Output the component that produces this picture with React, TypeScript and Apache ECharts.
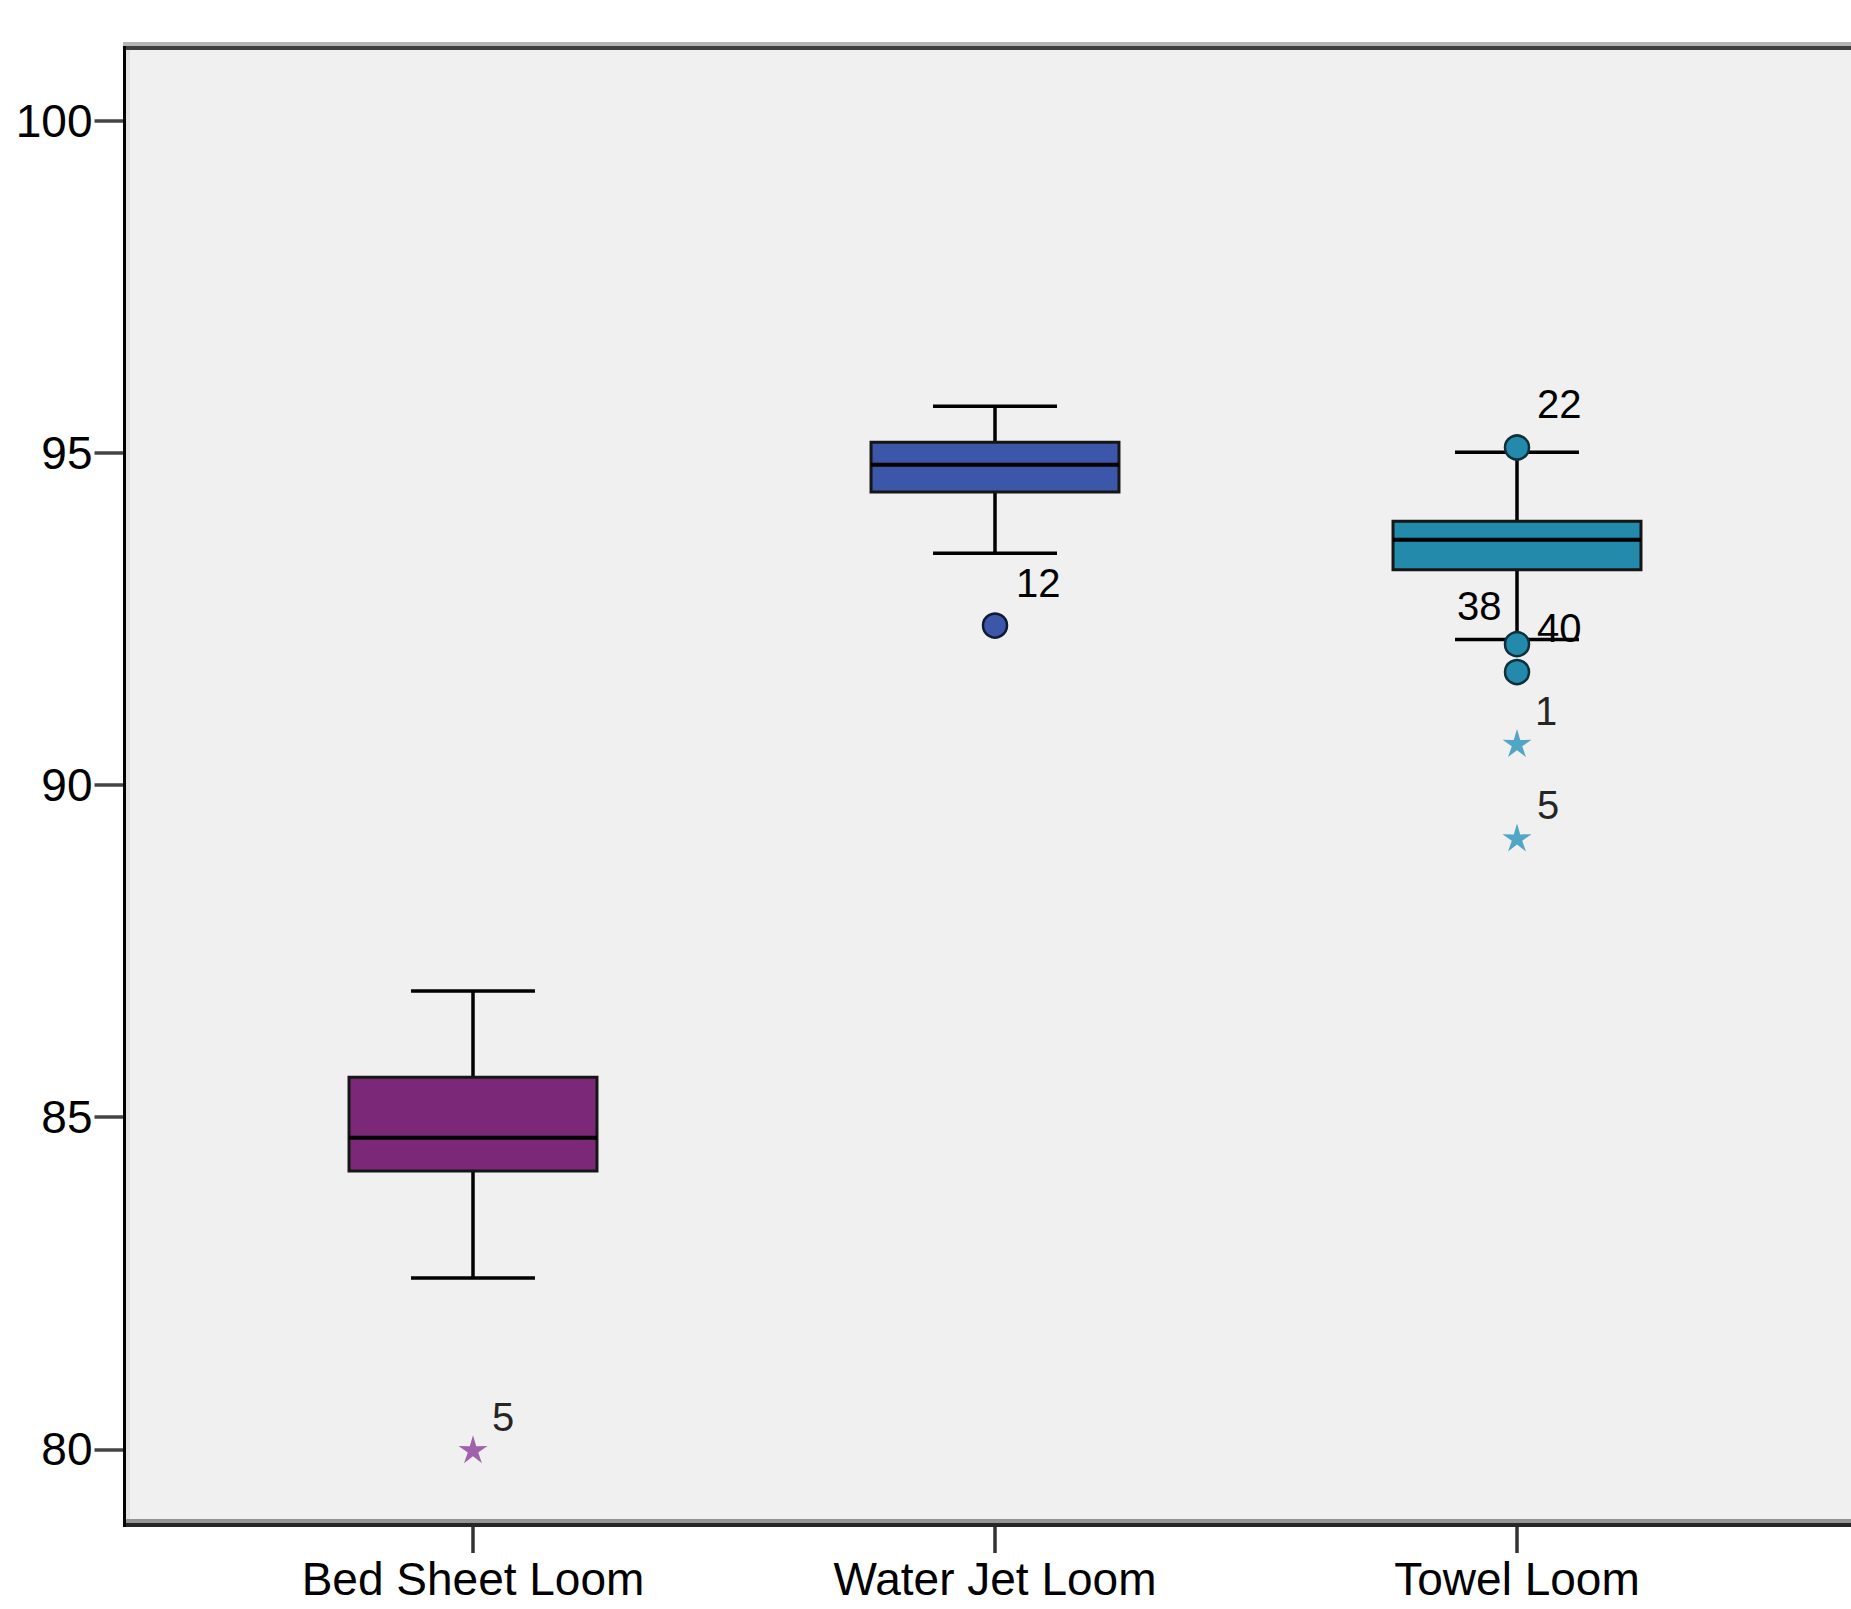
import React, { useEffect, useRef } from "react";
import * as echarts from "echarts";

// ---------- data ----------
const categories = ["Bed Sheet Loom", "Water Jet Loom", "Towel Loom"];
const whiskerLow = [82.58, 93.49, 92.19];
const quartile1 = [84.19, 94.41, 93.24];
const median = [84.69, 94.82, 93.69];
const quartile3 = [85.6, 95.16, 93.97];
const whiskerHigh = [86.9, 95.7, 95.01];
const yTicks = [80, 85, 90, 95, 100];

// outliers (circles)
const outlierCategory = [1, 2, 2, 2];
const outlierValue = [92.4, 95.08, 92.12, 91.7];
const outlierCase = ["12", "22", "40", "38"];

// extreme values (stars)
const extremeCategory = [0, 2, 2];
const extremeValue = [80.0, 90.63, 89.21];
const extremeCase = ["5", "1", "5"];

const Y_MIN = 78.86;
const Y_MAX = 101.094;

// ---------- styles ----------
const FILL = ["#7b2878", "#3c56a9", "#238aab"];
const EDGE = ["#1a0f1a", "#101a33", "#0f2f3a"];
const STAR = ["#9448a0", "#3598bd", "#3598bd"];
const FONT = "'Liberation Sans', Arial, sans-serif";
// label offsets [dx, dy] from point centre (left / bottom of text)
const outlierLabelOffset = [[21, -23], [20, -24], [20, 4], [-60, -46]];
const extremeLabelOffset = [[19, -12], [18, -12], [20, -12]];

function starPath(): string {
  const pts: string[] = [];
  for (let k = 0; k < 10; k++) {
    const a = ((-90 + k * 36) * Math.PI) / 180;
    const r = k % 2 === 0 ? 10 : 3.6;
    pts.push(`${(r * Math.cos(a)).toFixed(3)} ${(r * Math.sin(a)).toFixed(3)}`);
  }
  return "path://M" + pts.join(" L") + " Z";
}

export default function App() {
  const ref = useRef<HTMLDivElement>(null);

  useEffect(() => {
    if (!ref.current) return;
    const chart = echarts.init(ref.current, null, { renderer: "svg" });

    const boxData = categories.map((_, i) => [
      i,
      whiskerLow[i],
      quartile1[i],
      median[i],
      quartile3[i],
      whiskerHigh[i],
    ]);

    const star = starPath();
    const labelText = { fontSize: 40, lineHeight: 40, color: "#000000", fontFamily: FONT };

    const option: any = {
      animation: false,
      backgroundColor: "#ffffff",
      grid: {
        left: 212,
        right: 73,
        top: 48,
        bottom: 84,
        containLabel: false,
        outerBoundsMode: "none",
      },
      xAxis: {
        type: "category",
        data: categories,
        axisLine: { show: false },
        axisTick: {
          show: true,
          alignWithLabel: true,
          length: 28,
          lineStyle: { color: "#333333", width: 3.5 },
        },
        axisLabel: {
          interval: 0,
          margin: 31,
          fontSize: 46,
          lineHeight: 46,
          color: "#000000",
          fontFamily: FONT,
        },
        splitLine: { show: false },
      },
      yAxis: {
        type: "value",
        min: Y_MIN,
        max: Y_MAX,
        offset: 87.5,
        axisLine: { show: false },
        axisTick: {
          show: true,
          length: 30,
          customValues: yTicks,
          lineStyle: { color: "#444444", width: 3.5 },
        },
        axisLabel: {
          customValues: yTicks,
          margin: 32,
          fontSize: 46,
          color: "#000000",
          fontFamily: FONT,
        },
        splitLine: { show: false },
      },
      graphic: [
        { type: "rect", z: -10, shape: { x: 123, y: 46, width: 1740, height: 1481 }, style: { fill: "#f0f0f0" } },
        { type: "rect", z: 50, shape: { x: 126, y: 50, width: 4, height: 1469 }, style: { fill: "#e2e2e2" } },
        { type: "rect", z: 50, shape: { x: 123, y: 42, width: 1740, height: 4 }, style: { fill: "#b5b5b5" } },
        { type: "rect", z: 51, shape: { x: 123, y: 46, width: 1740, height: 4 }, style: { fill: "#3f3f3f" } },
        { type: "rect", z: 50, shape: { x: 126, y: 1519, width: 1740, height: 4 }, style: { fill: "#959595" } },
        { type: "rect", z: 51, shape: { x: 123, y: 1523, width: 1740, height: 4 }, style: { fill: "#262626" } },
        { type: "rect", z: 52, shape: { x: 123, y: 46, width: 3, height: 1481 }, style: { fill: "#000000" } },
      ],
      series: [
        {
          type: "custom",
          z: 2,
          data: boxData,
          encode: { x: 0, y: [1, 2, 3, 4, 5] },
          renderItem: (params: any, api: any) => {
            const c = api.value(0);
            const lo = api.coord([c, api.value(1)]);
            const b1 = api.coord([c, api.value(2)]);
            const md = api.coord([c, api.value(3)]);
            const b3 = api.coord([c, api.value(4)]);
            const hi = api.coord([c, api.value(5)]);
            const band = api.size([1, 0])[0];
            const bw = band * 0.475;
            const cw = bw / 2;
            const x = lo[0];
            const idx = params.dataIndex;
            const ln = { stroke: "#000000", lineWidth: 3.5 };
            return {
              type: "group",
              children: [
                { type: "line", shape: { x1: x, y1: hi[1], x2: x, y2: b3[1] }, style: ln },
                { type: "line", shape: { x1: x, y1: b1[1], x2: x, y2: lo[1] }, style: ln },
                { type: "line", shape: { x1: x - cw / 2, y1: hi[1], x2: x + cw / 2, y2: hi[1] }, style: ln },
                { type: "line", shape: { x1: x - cw / 2, y1: lo[1], x2: x + cw / 2, y2: lo[1] }, style: ln },
                {
                  type: "rect",
                  shape: { x: x - bw / 2, y: b3[1], width: bw, height: b1[1] - b3[1] },
                  style: { fill: FILL[idx], stroke: "#161616", lineWidth: 3 },
                },
                {
                  type: "line",
                  shape: { x1: x - bw / 2, y1: md[1], x2: x + bw / 2, y2: md[1] },
                  style: { stroke: "#000000", lineWidth: 4 },
                },
              ],
            };
          },
        },
        {
          type: "scatter",
          z: 3,
          symbol: "circle",
          symbolSize: 24,
          data: outlierValue.map((v, i) => {
            const c = outlierCategory[i];
            return {
              value: [c, v],
              name: outlierCase[i],
              itemStyle: { color: FILL[c], borderColor: EDGE[c], borderWidth: 2.5, opacity: 1 },
              label: {
                show: true,
                formatter: outlierCase[i],
                position: "inside",
                align: "left",
                verticalAlign: "bottom",
                offset: outlierLabelOffset[i],
                ...labelText,
              },
            };
          }),
        },
        {
          type: "scatter",
          z: 3,
          symbol: star,
          symbolSize: [29, 28],
          data: extremeValue.map((v, i) => {
            const c = extremeCategory[i];
            return {
              value: [c, v],
              name: extremeCase[i],
              itemStyle: { color: STAR[c], opacity: 0.85 },
              label: {
                show: true,
                formatter: extremeCase[i],
                position: "inside",
                align: "left",
                verticalAlign: "bottom",
                offset: extremeLabelOffset[i],
                ...labelText,
              },
            };
          }),
        },
      ],
    };

    chart.setOption(option);
    return () => {
      chart.dispose();
    };
  }, []);

  return (
    <div
      ref={ref}
      style={{ position: "absolute", left: 0, top: 0, width: 1851, height: 1609 }}
    />
  );
}
